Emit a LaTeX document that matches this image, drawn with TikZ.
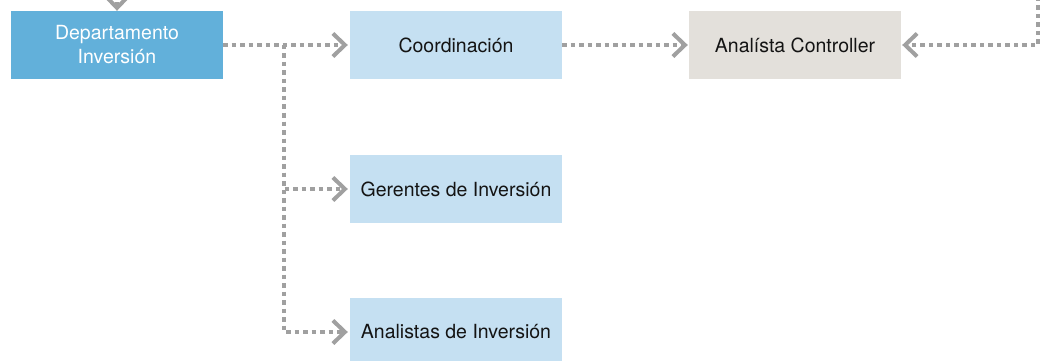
\documentclass[tikz,border=0pt]{standalone}
\usepackage{fontspec}
\setmainfont{TeX Gyre Heros}
\usetikzlibrary{arrows.meta}
\definecolor{deptblue}{RGB}{98,176,218}
\definecolor{lightblue}{RGB}{197,224,242}
\definecolor{beige}{RGB}{227,224,219}
\definecolor{arrowgray}{RGB}{160,160,160}
\definecolor{textblack}{RGB}{20,20,20}
\tikzset{
  box/.style={rectangle, minimum width=212pt, minimum height=68pt, inner sep=0pt,
    font=\fontsize{19.5}{24}\selectfont, align=center, text=textblack},
  conn/.style={draw=arrowgray, line width=3.5pt, line cap=butt, dash pattern=on 4.5pt off 4pt,
    -{Straight Barb[length=12pt,width=23pt,line width=4pt]}},
}
\begin{document}
\begin{tikzpicture}[x=1pt,y=-1pt]
\useasboundingbox (0,0) rectangle (1045,361);
\clip (0,0) rectangle (1045,361);
\node[box, fill=deptblue, text=white] (dept) at (117,45) {Departamento\\Inversión};
\node[box, fill=lightblue] (coord) at (456,45) {Coordinación};
\node[box, fill=beige] (ctrl) at (795,45) {Analísta Controller};
\node[box, fill=lightblue] (ger) at (456,189) {Gerentes de Inversión};
\node[box, fill=lightblue] (ana) at (456,332) {Analistas de Inversión};
\coordinate (tp) at (117,-40);
\coordinate (rt) at (1038,-20);
\coordinate (j) at (284,45);
\draw[conn] (tp) -- (dept.north);
\draw[conn] (dept.east) -- ([xshift=-2pt]coord.west);
\draw[conn] (coord.east) -- ([xshift=-1pt]ctrl.west);
\draw[conn] (rt) |- ([xshift=1pt]ctrl.east);
\draw[conn] (j) |- ([xshift=-2pt]ger.west);
\draw[conn] (j) |- ([xshift=-2pt]ana.west);
\end{tikzpicture}
\end{document}
